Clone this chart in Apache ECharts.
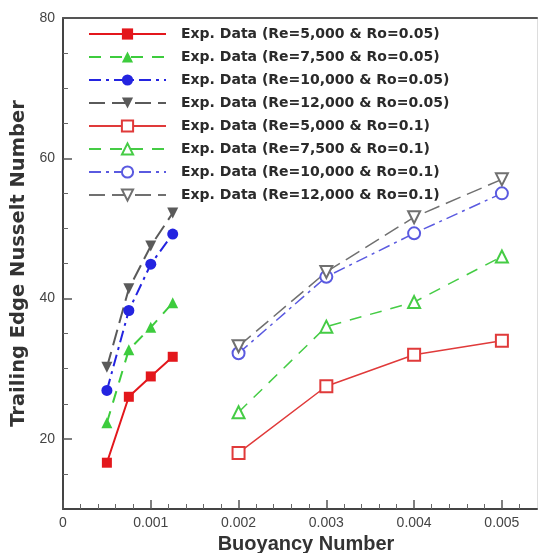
<!DOCTYPE html>
<html>
<head>
<meta charset="utf-8">
<script src="https://cdn.jsdelivr.net/npm/echarts@6/dist/echarts.min.js"></script>
<style>
html,body{margin:0;padding:0;background:#fff;}
#chart{width:541px;height:553px;}
</style>
</head>
<body>
<div id="chart"></div>
<script>
// ---- data ----
var xLow = [0.0005, 0.00075, 0.001, 0.00125];
var xHigh = [0.002, 0.003, 0.004, 0.005];
var re5000_ro005 = [16.6, 26.0, 28.9, 31.7];
var re7500_ro005 = [22.3, 32.7, 35.9, 39.4];
var re10000_ro005 = [26.9, 38.3, 44.9, 49.2];
var re12000_ro005 = [30.2, 41.4, 47.5, 52.2];
var re5000_ro01 = [18.0, 27.5, 32.0, 34.0];
var re7500_ro01 = [23.8, 36.0, 39.5, 46.0];
var re10000_ro01 = [32.2, 43.1, 49.3, 55.0];
var re12000_ro01 = [33.2, 43.8, 51.6, 57.0];
var seriesNames = [
  'Exp. Data (Re=5,000 & Ro=0.05)',
  'Exp. Data (Re=7,500 & Ro=0.05)',
  'Exp. Data (Re=10,000 & Ro=0.05)',
  'Exp. Data (Re=12,000 & Ro=0.05)',
  'Exp. Data (Re=5,000 & Ro=0.1)',
  'Exp. Data (Re=7,500 & Ro=0.1)',
  'Exp. Data (Re=10,000 & Ro=0.1)',
  'Exp. Data (Re=12,000 & Ro=0.1)'
];
var xTickLabels = [0, 0.001, 0.002, 0.003, 0.004, 0.005];
var xMinorTicks = [0.0002,0.0004,0.0006,0.0008,0.0012,0.0014,0.0016,0.0018,0.0022,0.0024,0.0026,0.0028,0.0032,0.0034,0.0036,0.0038,0.0042,0.0044,0.0046,0.0048,0.0052];
var yTickLabels = [20, 40, 60, 80];
var yMinorTicks = [15, 25, 30, 35, 45, 50, 55, 65, 70, 75];

function pairs(xs, ys){ return xs.map(function(x,i){ return [x, ys[i]]; }); }

var cfg = [
  {x:xLow, y:re5000_ro005, color:'#e3171c', type:'solid', sym:'rect', size:10, w:2},
  {x:xLow, y:re7500_ro005, color:'#3dcc3d', type:[12,9], sym:'triangle', size:11, w:2},
  {x:xLow, y:re10000_ro005, color:'#2424e0', type:[12,5,3,5], sym:'circle', size:11, w:2},
  {x:xLow, y:re12000_ro005, color:'#5a5a5a', type:[16,7], sym:'triangle', rot:180, size:11, w:2},
  {x:xHigh, y:re5000_ro01, color:'#e03a3a', type:'solid', sym:'emptyRect', size:12, w:1.5},
  {x:xHigh, y:re7500_ro01, color:'#45cc45', type:[12,9], sym:'emptyTriangle', size:12, w:1.5},
  {x:xHigh, y:re10000_ro01, color:'#5a5ae0', type:[12,5,3,5], sym:'emptyCircle', size:12, w:1.5},
  {x:xHigh, y:re12000_ro01, color:'#707070', type:[16,7], sym:'emptyTriangle', rot:180, size:12, w:1.5}
];

var series = cfg.map(function(c, i){
  return {
    name: seriesNames[i],
    type: 'line',
    xAxisIndex: 0, yAxisIndex: 0,
    data: pairs(c.x, c.y),
    symbol: c.sym,
    symbolSize: c.size,
    symbolRotate: c.rot || 0,
    showAllSymbol: true,
    color: c.color,
    itemStyle: {color: c.color, borderWidth: 1.5},
    lineStyle: {color: c.color, type: c.type, width: c.w},
    animation: false
  };
});

var chart = echarts.init(document.getElementById('chart'), null, {renderer:'canvas'});
var labelFont = {color:'#444', fontSize:14, fontFamily:'Liberation Sans, Arial, sans-serif'};

chart.setOption({
  backgroundColor:'#fff',
  animation:false,
  grid:{left:63, top:18, width:474, height:491, containLabel:false, outerBoundsMode:'none'},
  legend:{
    orient:'vertical', left:88, top:27, padding:0,
    itemWidth:77, itemHeight:14, itemGap:9,
    data: seriesNames,
    textStyle:{color:'#2a2a2a', fontSize:14, lineHeight:14, fontWeight:'bold', fontFamily:'DejaVu Sans, sans-serif', padding:[0,0,0,10]}
  },
  xAxis:[
    {type:'value', min:0, max:0.0054, position:'bottom', gridIndex:0,
     name:'Buoyancy Number', nameLocation:'middle', nameGap:21,
     nameTextStyle:{color:'#333', fontSize:20, fontWeight:'bold', fontFamily:'Liberation Sans, Arial, sans-serif', padding:[0,0,0,12]},
     axisLine:{show:true, lineStyle:{color:'#444', width:2}},
     axisTick:{show:true, inside:true, length:9, customValues:xTickLabels, lineStyle:{color:'#555', width:1.5}},
     axisLabel:{show:true, margin:7, customValues:xTickLabels, formatter:function(v){return v===0?'0':v.toFixed(3);}, ...labelFont},
     splitLine:{show:false}},
    {type:'value', min:0, max:0.0054, position:'bottom', gridIndex:0,
     axisLine:{show:false},
     axisTick:{show:true, inside:true, length:5, customValues:xMinorTicks, lineStyle:{color:'#666', width:1}},
     axisLabel:{show:false}, splitLine:{show:false}},
    {type:'value', min:0, max:0.0054, position:'top', gridIndex:0,
     axisLine:{show:true, onZero:false, lineStyle:{color:'#555', width:2}},
     axisTick:{show:false}, axisLabel:{show:false}, splitLine:{show:false}}
  ],
  yAxis:[
    {type:'value', min:10, max:80, position:'left', gridIndex:0,
     name:'Trailing Edge Nusselt Number', nameLocation:'middle', nameGap:34,
     nameTextStyle:{color:'#333', fontSize:19.5, fontWeight:'bold', fontFamily:'DejaVu Sans, sans-serif'},
     axisLine:{show:true, onZero:false, lineStyle:{color:'#444', width:2}},
     axisTick:{show:true, inside:true, length:9, customValues:yTickLabels, lineStyle:{color:'#555', width:1.5}},
     axisLabel:{show:true, margin:8, customValues:yTickLabels, ...labelFont},
     splitLine:{show:false}},
    {type:'value', min:10, max:80, position:'left', gridIndex:0,
     axisLine:{show:false},
     axisTick:{show:true, inside:true, length:5, customValues:yMinorTicks, lineStyle:{color:'#666', width:1}},
     axisLabel:{show:false}, splitLine:{show:false}},
    {type:'value', min:10, max:80, position:'right', gridIndex:0,
     axisLine:{show:true, onZero:false, lineStyle:{color:'#ddd', width:1}},
     axisTick:{show:false}, axisLabel:{show:false}, splitLine:{show:false}}
  ],
  series: series
});
</script>
</body>
</html>
